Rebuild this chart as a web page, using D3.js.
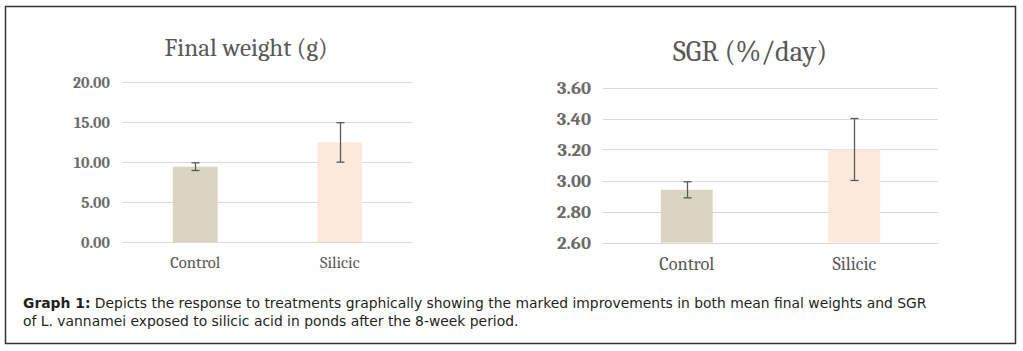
<!DOCTYPE html>
<html><head><meta charset="utf-8">
<script src="https://cdn.jsdelivr.net/npm/d3@7"></script>
<style>html,body{margin:0;padding:0;background:#fff;}svg{display:block;}</style>
</head><body>
<svg id="c" width="1023" height="351"></svg>
<script>
const categories = ["Control", "Silicic"];
const weightMeans = [9.42, 12.45];
const weightErrors = [0.48, 2.47];
const weightTicks = [0, 5, 10, 15, 20];
const sgrMeans = [2.94, 3.20];
const sgrErrors = [0.052, 0.20];
const sgrTicks = [2.6, 2.8, 3.0, 3.2, 3.4, 3.6];
const barColors = ["#d9d5c0", "#fde9dc"];
const captionBold = "Graph 1:";
const captionLine1 = " Depicts the response to treatments graphically showing the marked improvements in both mean final weights and SGR";
const captionLine2 = "of L. vannamei exposed to silicic acid in ponds after the 8-week period.";

const svg = d3.select("#c");
svg.append("rect").attr("x", 5.5).attr("y", 6.5).attr("width", 1010).attr("height", 337)
  .attr("fill", "#fff").attr("stroke", "#333").attr("stroke-width", 1.5);

const serif = "Cambria, 'DejaVu Serif', serif";

// scale a text's font size so its rendered width matches a target width
function fitWidth(sel, target) {
  const w = sel.node().getComputedTextLength();
  const fs = parseFloat(sel.attr("font-size"));
  sel.attr("font-size", (fs * target / w).toFixed(2));
}

function chart(o) {
  const g = svg.append("g");
  const x = d3.scaleBand().domain(categories).range([o.x0, o.x1]).paddingInner(0.69).paddingOuter(0.345);
  const y = d3.scaleLinear().domain(o.domain).range([o.y0, o.y1]);
  g.selectAll("line.grid").data(o.ticks).join("line")
    .attr("x1", o.x0).attr("x2", o.x1)
    .attr("y1", d => Math.round(y(d)) + 0.5).attr("y2", d => Math.round(y(d)) + 0.5)
    .attr("stroke", "#d9d9d9").attr("stroke-width", 1);
  const ax = d3.axisLeft(y).tickValues(o.ticks).tickFormat(d3.format(".2f")).tickSize(0).tickPadding(o.x0 - o.labelRight);
  const ag = g.append("g").attr("transform", `translate(${o.x0},0)`).call(ax);
  ag.select(".domain").remove();
  ag.selectAll("text").attr("font-family", serif).attr("font-size", 14).attr("fill", "#6b6b6b").attr("font-weight", "bold");
  // fit the tick label size to the measured width of the top label
  const topLbl = ag.selectAll("text").filter(d => d === o.ticks[o.ticks.length - 1]);
  const w = topLbl.node().getComputedTextLength();
  ag.selectAll("text").attr("font-size", (14 * o.tickW / w).toFixed(2));
  g.selectAll("rect.bar").data(o.means).join("rect")
    .attr("x", (d, i) => x(categories[i])).attr("width", x.bandwidth())
    .attr("y", d => y(d)).attr("height", d => y(o.domain[0]) - y(d))
    .attr("fill", (d, i) => barColors[i]);
  const cap = 4;
  o.means.forEach((m, i) => {
    const cx = Math.round(x(categories[i]) + x.bandwidth() / 2) + 0.5;
    const lo = y(m - o.errors[i]), hi = y(m + o.errors[i]);
    g.append("line").attr("x1", cx).attr("x2", cx).attr("y1", lo).attr("y2", hi).attr("stroke", "#595959").attr("stroke-width", 1.3);
    [lo, hi].forEach(yy => g.append("line").attr("x1", cx - cap).attr("x2", cx + cap).attr("y1", yy).attr("y2", yy).attr("stroke", "#595959").attr("stroke-width", 1.3));
  });
  const cats = g.selectAll("text.cat").data(categories).join("text")
    .attr("x", d => x(d) + x.bandwidth() / 2).attr("y", o.catY)
    .attr("text-anchor", "middle").attr("font-family", serif).attr("font-size", 14)
    .attr("fill", "#595959").text(d => d);
  const cw = cats.filter(d => d === "Control").node().getComputedTextLength();
  cats.attr("font-size", (14 * o.catW / cw).toFixed(2));
  const t = g.append("text").attr("x", o.titleX).attr("y", o.titleY).attr("text-anchor", "middle")
    .attr("font-family", serif).attr("font-size", 20).attr("fill", "#595959").text(o.title);
  fitWidth(t, o.titleW);
}

chart({x0: 123, x1: 412, y0: 242, y1: 82, domain: [0, 20], ticks: weightTicks, means: weightMeans, errors: weightErrors,
  labelRight: 110, tickW: 37, catW: 50, catY: 268, title: "Final weight (g)", titleX: 246, titleY: 56, titleW: 163});
chart({x0: 603, x1: 938, y0: 242.5, y1: 87.5, domain: [2.6, 3.6], ticks: sgrTicks, means: sgrMeans, errors: sgrErrors,
  labelRight: 591, tickW: 34, catW: 55, catY: 270, title: "SGR (%/day)", titleX: 750, titleY: 61, titleW: 154});

const capG = svg.append("g").attr("font-family", "'Century Gothic', 'DejaVu Sans', sans-serif").attr("font-size", 13).attr("fill", "#231f20");
const t1 = capG.append("text").attr("x", 23).attr("y", 308);
t1.append("tspan").attr("font-weight", "bold").text(captionBold);
t1.append("tspan").text(captionLine1);
const t2 = capG.append("text").attr("x", 23).attr("y", 326).text(captionLine2);
const lw = t1.node().getComputedTextLength();
const capFs = (13 * 904 / lw).toFixed(2);
capG.attr("font-size", capFs);
</script>
</body></html>
